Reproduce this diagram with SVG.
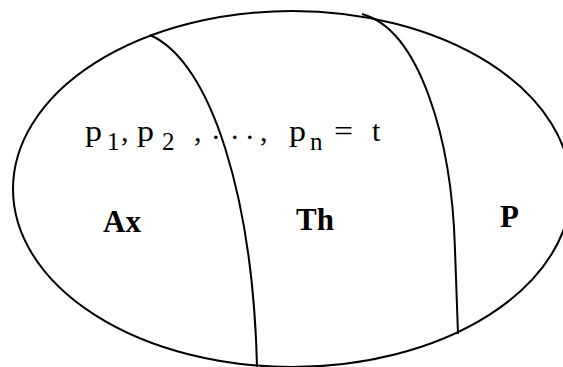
<svg xmlns="http://www.w3.org/2000/svg" width="563" height="367" viewBox="0 0 563 367">
<style>
.ln{fill:none;stroke:#000;stroke-width:2}
.t{font-family:"Liberation Serif","Times New Roman",serif;fill:#000}
.m{font-size:30px}
.s{font-size:25px}
.b{font-size:31px;font-weight:bold}
</style>
<rect width="563" height="367" fill="#fff"/>
<g id="connectors">
<ellipse id="universe" class="ln" cx="292" cy="189" rx="279" ry="178"/>
<path id="border-ax-th" class="ln" d="M150,35 C212,62 253,200 257,367"/>
<path id="border-th-p" class="ln" d="M362,14 C420,30 452,140 455,250 L458,334"/>
</g>
<g id="formula" class="t">
<text class="m" x="85" y="141" textLength="17" lengthAdjust="spacingAndGlyphs">p</text>
<text class="s" x="107" y="150">1</text>
<text class="m" x="121" y="141">,</text>
<text class="m" x="137" y="141" textLength="17" lengthAdjust="spacingAndGlyphs">p</text>
<text class="s" x="162" y="150">2</text>
<text class="m" x="194" y="141">,</text>
<text class="m" x="212" y="139">.</text>
<text class="m" x="231" y="139">.</text>
<text class="m" x="246" y="139">.</text>
<text class="m" x="260" y="141">,</text>
<text class="m" x="289" y="141" textLength="17" lengthAdjust="spacingAndGlyphs">p</text>
<text class="s" x="310" y="150">n</text>
<text class="m" x="334" y="141" textLength="19" lengthAdjust="spacingAndGlyphs">=</text>
<text class="m" x="372" y="141">t</text>
</g>
<g id="ax"><text class="t b" x="103" y="232">Ax</text></g>
<g id="th"><text class="t b" x="296" y="230">Th</text></g>
<g id="p"><text class="t b" x="500" y="227">P</text></g>
</svg>
